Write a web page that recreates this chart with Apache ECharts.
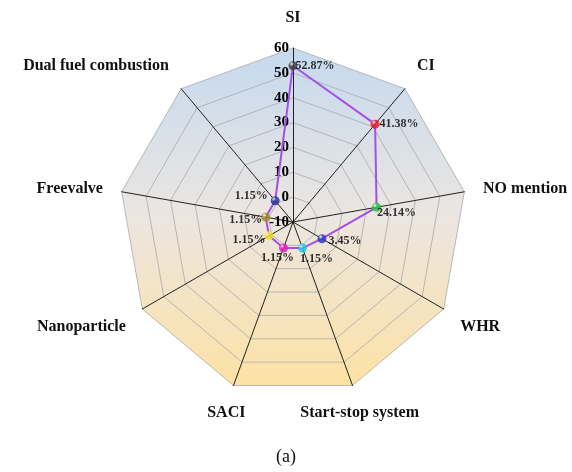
<!DOCTYPE html>
<html>
<head>
<meta charset="utf-8">
<script src="https://cdn.jsdelivr.net/npm/echarts@6/dist/echarts.min.js"></script>
<style>
html, body { margin: 0; padding: 0; background: #fff; }
#chart { width: 572px; height: 472px; }
</style>
</head>
<body>
<div id="chart"></div>
<script>
// categories clockwise from the top, as in the figure
const categories = ["SI", "CI", "NO mention", "WHR", "Start-stop system", "SACI", "Nanoparticle", "Freevalve", "Dual fuel combustion"]
const shares = [52.87, 41.38, 24.14, 3.45, 1.15, 1.15, 1.15, 1.15, 1.15]
const axisMin = -10
const axisMax = 60
const axisStep = 10

// styling, same order as categories
const pointColors = ["#3a3a3a", "#e8141c", "#22c43a", "#2a35b8", "#18c8e0", "#e816b8", "#f2e21a", "#9a8a22", "#1f2f8a"]
const labelPlaces = [
	{ position: "right", offset: [-7, 0] },
	{ position: "right", offset: [-5, 0] },
	{ position: "right", offset: [-9, 6] },
	{ position: "right", offset: [-3, 2] },
	{ position: "bottom", offset: [14, -5] },
	{ position: "bottom", offset: [-6, -6] },
	{ position: "left", offset: [6, 4] },
	{ position: "left", offset: [6, 3] },
	{ position: "left", offset: [2, -5] }
]
const nameLayouts = [
	{ gap: 30, align: "center", v: "middle" },
	{ gap: 19, align: "left", v: "bottom" },
	{ gap: 19, align: "left", v: "middle" },
	{ gap: 19, align: "left", v: "top" },
	{ gap: 21, align: "center", v: "top" },
	{ gap: 21, align: "center", v: "top" },
	{ gap: 19, align: "right", v: "top" },
	{ gap: 19, align: "right", v: "middle" },
	{ gap: 19, align: "right", v: "bottom" }
]

const serif = "'Liberation Serif', 'Times New Roman', serif"
const center = [293, 222]
const radius = 174

// echarts radar runs counter-clockwise, so walk the list backwards after SI
const radarOrder = [0].concat(categories.map((c, i) => i).slice(1).reverse())

const indicators = radarOrder.map(i => ({
	name: categories[i],
	min: axisMin,
	max: axisMax,
	nameGap: nameLayouts[i].gap,
	nameTextStyle: { align: nameLayouts[i].align, verticalAlign: nameLayouts[i].v },
	axisLabel: { show: i === 0 }
}))

const sphere = c => new echarts.graphic.RadialGradient(0.35, 0.3, 0.75, [
	{ offset: 0, color: "#ffffff" },
	{ offset: 0.35, color: c },
	{ offset: 1, color: c }
])

let chart = echarts.init(document.getElementById("chart"), null, { renderer: "canvas" })

let option = {
	backgroundColor: "#fff",
	animation: false,
	title: {
		text: "(a)",
		left: "center",
		top: 443,
		textStyle: { fontFamily: serif, fontWeight: "normal", fontSize: 18, color: "#111" }
	},
	radar: {
		center: center,
		radius: radius,
		startAngle: 90,
		splitNumber: (axisMax - axisMin) / axisStep,
		indicator: indicators,
		axisName: {
			color: "#111",
			fontFamily: serif,
			fontWeight: "bold",
			fontSize: 16
		},
		axisLine: { lineStyle: { color: "#222", width: 1 } },
		splitLine: { lineStyle: { color: "#aaaaaa", width: 0.8 } },
		splitArea: {
			show: true,
			areaStyle: {
				color: [new echarts.graphic.LinearGradient(0, 48, 0, 386, [
					{ offset: 0, color: "#c5d9ef" },
					{ offset: 0.5, color: "#ece6e1" },
					{ offset: 1, color: "#fde2a5" }
				], true)]
			}
		},
		axisLabel: {
			show: false,
			margin: 4,
			color: "#000",
			fontFamily: serif,
			fontWeight: "bold",
			fontSize: 15
		}
	},
	polar: {
		center: center,
		radius: radius
	},
	angleAxis: {
		type: "category",
		data: categories,
		boundaryGap: false,
		startAngle: 90,
		clockwise: true,
		show: false
	},
	radiusAxis: {
		min: axisMin,
		max: axisMax,
		show: false
	},
	series: [
		{
			type: "radar",
			symbol: "none",
			lineStyle: { color: "#a64fe6", width: 2 },
			data: [{ value: radarOrder.map(i => shares[i]) }],
			z: 2
		},
		{
			type: "scatter",
			coordinateSystem: "polar",
			symbolSize: 9,
			z: 4,
			label: {
				show: true,
				color: "#000",
				textBorderWidth: 0,
				fontFamily: serif,
				fontWeight: "bold",
				fontSize: 12
			},
			data: categories.map((c, i) => ({
				value: [shares[i], c],
				itemStyle: { color: sphere(pointColors[i]) },
				label: Object.assign({ formatter: shares[i].toFixed(2) + "%" }, labelPlaces[i])
			}))
		}
	]
}

chart.setOption(option)
</script>
</body>
</html>
